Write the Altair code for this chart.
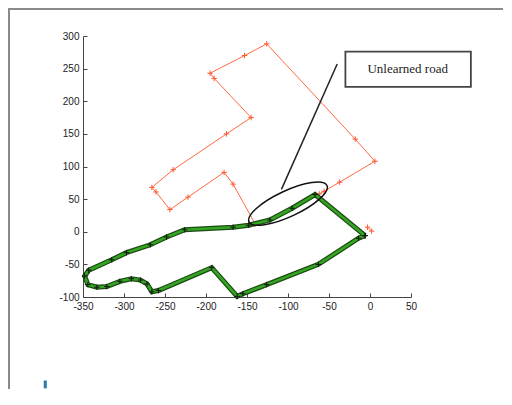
import altair as alt
import pandas as pd

# ---- data ----
x_ticks = [-350, -300, -250, -200, -150, -100, -50, 0, 50]
y_ticks = [-100, -50, 0, 50, 100, 150, 200, 250, 300]

# learned road (green, with black markers)
green_x = [-6, -67, -95, -122, -148, -167, -226, -248, -268, -297, -315, -343, -348, -344,
           -333, -321, -305, -291, -280, -272, -266, -258, -193, -162, -155, -126, -63, -14, -6]
green_y = [-6, 57, 36, 18, 10, 7, 3, -8, -20, -32, -43, -59, -68, -81,
           -85, -84, -76, -72, -74, -80, -92, -90, -55, -99, -95, -81, -50, -10, -6]

# unlearned road (red)
red_seg = [0, 0] + [1] * 19
red_x = [2, -3, -62, -56, -37, 6, -18, -126, -153, -195, -190, -145, -175, -240, -266,
         -261, -244, -222, -178, -167, -140]
red_y = [1, 7, 58, 62, 76, 108, 142, 288, 270, 243, 235, 175, 150, 95, 68,
         61, 34, 53, 91, 73, 12]

# annotation
ellipse_center = [-100, 43]
pointer_line = [-40, 257, -108, 65]          # x, y, x2, y2
label_box = [-30, 276, 123, 222]             # x, y, x2, y2
label_text = "Unlearned road"
label_pos = [46, 249]
cursor_bar = [-396, -228, -240]

W, H = 328, 261

green_df = pd.DataFrame({"x": green_x, "y": green_y, "i": range(len(green_x))})
red_df = pd.DataFrame({"x": red_x, "y": red_y, "seg": red_seg, "i": range(len(red_x))})

xs = alt.Scale(domain=[-350, 50], nice=False, zero=False)
ys = alt.Scale(domain=[-100, 300], nice=False, zero=False)

axis_common = dict(title=None, grid=False, ticks=False, labelOverlap=False, labelFlush=False,
                   domainColor="#444", domainWidth=1, labelFont="Liberation Sans",
                   labelFontSize=10, labelColor="#222", labelPadding=4,
                   labelExpr="replace(datum.label, '\u2212', '-')")

cross = "M -1 0 L 1 0 M 0 -1 L 0 1"
ell = ("M -1 0 C -1 -0.166 -0.5523 -0.30 0 -0.30 C 0.5523 -0.30 1 -0.166 1 0 "
       "C 1 0.166 0.5523 0.30 0 0.30 C -0.5523 0.30 -1 0.166 -1 0 Z")

red_line = alt.Chart(red_df).mark_line(color="#ff6a40", strokeWidth=1).encode(
    x=alt.X("x:Q", scale=xs, axis=alt.Axis(values=x_ticks, orient="bottom", **axis_common)),
    y=alt.Y("y:Q", scale=ys, axis=alt.Axis(values=y_ticks, orient="left", **axis_common)),
    detail="seg:N",
    order="i:Q",
)

red_pts = alt.Chart(red_df).mark_point(shape=cross, filled=False, color="#ff5530", opacity=1,
                                       strokeWidth=1, size=30).encode(
    x=alt.X("x:Q", axis=alt.Axis(values=x_ticks, orient="top", offset=-H, labels=False,
                                 domain=False, ticks=True, tickSize=4, tickColor="#444",
                                 grid=False, title=None)),
    y=alt.Y("y:Q", axis=alt.Axis(values=y_ticks, orient="right", offset=-W, labels=False,
                                 domain=False, ticks=True, tickSize=4, tickColor="#444",
                                 grid=False, title=None)),
)

def noax(ch, f):
    return ch(f, axis=None)

green_under = alt.Chart(green_df).mark_line(color="#1c4a12", strokeWidth=5).encode(
    x=noax(alt.X, "x:Q"), y=noax(alt.Y, "y:Q"), order="i:Q")
green_top = alt.Chart(green_df).mark_line(color="#33a522", strokeWidth=2.6).encode(
    x=noax(alt.X, "x:Q"), y=noax(alt.Y, "y:Q"), order="i:Q")
green_pts = alt.Chart(green_df).mark_point(shape=cross, filled=False, color="#111", opacity=1,
                                           strokeWidth=1, size=30).encode(
    x=noax(alt.X, "x:Q"), y=noax(alt.Y, "y:Q"))

ell_df = pd.DataFrame({"x": [ellipse_center[0]], "y": [ellipse_center[1]]})
ellipse = alt.Chart(ell_df).mark_point(shape=ell, filled=False, color="#111", opacity=1,
                                       strokeWidth=1.5, size=86 * 86, angle=335).encode(
    x=noax(alt.X, "x:Q"), y=noax(alt.Y, "y:Q"))

ptr_df = pd.DataFrame({"x": [pointer_line[0]], "y": [pointer_line[1]],
                       "x2": [pointer_line[2]], "y2": [pointer_line[3]]})
pointer = alt.Chart(ptr_df).mark_rule(color="#222", strokeWidth=1.5).encode(
    x=noax(alt.X, "x:Q"), y=noax(alt.Y, "y:Q"), x2="x2:Q", y2="y2:Q")

box_df = pd.DataFrame({"x": [label_box[0]], "y": [label_box[1]],
                       "x2": [label_box[2]], "y2": [label_box[3]]})
box = alt.Chart(box_df).mark_rect(filled=False, color="#444", strokeWidth=1.8).encode(
    x=noax(alt.X, "x:Q"), y=noax(alt.Y, "y:Q"), x2="x2:Q", y2="y2:Q")

txt_df = pd.DataFrame({"x": [label_pos[0]], "y": [label_pos[1]], "t": [label_text]})
txt = alt.Chart(txt_df).mark_text(font="Liberation Serif", fontSize=13, color="#222").encode(
    x=noax(alt.X, "x:Q"), y=noax(alt.Y, "y:Q"), text="t:N")

bar_df = pd.DataFrame({"x": [cursor_bar[0]], "y": [cursor_bar[1]], "y2": [cursor_bar[2]]})
bar = alt.Chart(bar_df).mark_rule(color="#2878b0", strokeWidth=3).encode(
    x=noax(alt.X, "x:Q"), y=noax(alt.Y, "y:Q"), y2="y2:Q")

one = pd.DataFrame({"a": [0]})
frame_left = alt.Chart(one).mark_rule(color="#8a8a8a", strokeWidth=2).encode(
    x=alt.value(-74), y=alt.value(-27), y2=alt.value(353))
frame_top = alt.Chart(one).mark_rule(color="#8a8a8a", strokeWidth=2).encode(
    x=alt.value(-75), x2=alt.value(420), y=alt.value(-27))

chart = alt.layer(
    red_line, red_pts, green_under, green_top, green_pts, ellipse, pointer, box, txt, bar,
    frame_left, frame_top,
).resolve_axis(x="independent", y="independent").properties(
    width=W, height=H,
    padding={"left": 75, "top": 28, "right": 92, "bottom": 92},
    autosize=alt.AutoSizeParams(type="none"),
).configure_view(stroke=None)

chart.save("out.html", embed_options={"renderer": "svg", "actions": False})
